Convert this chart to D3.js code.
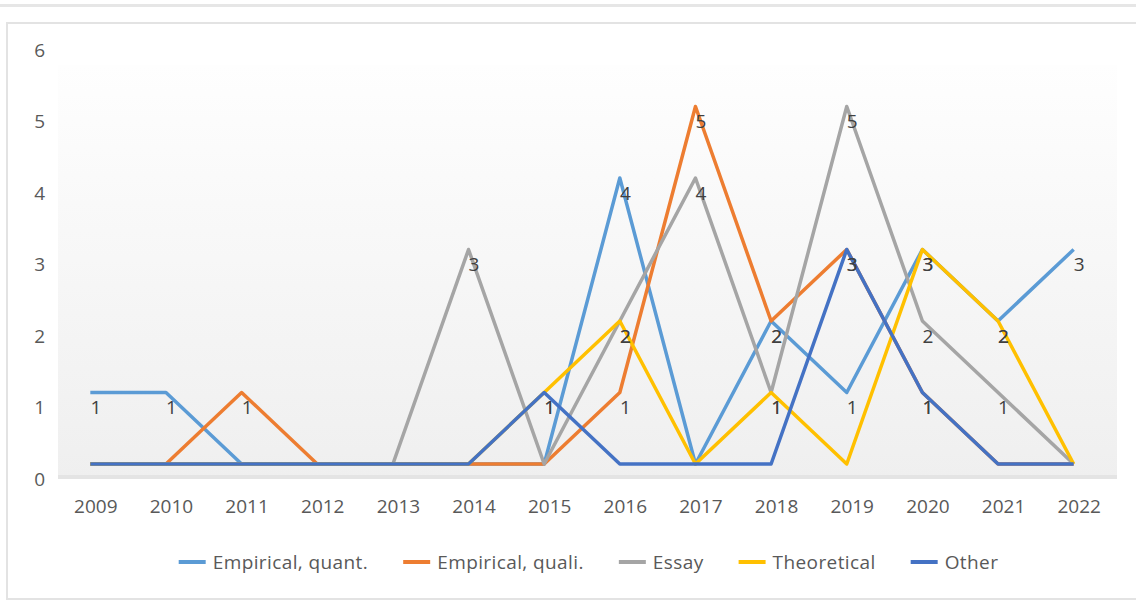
<!DOCTYPE html>
<html>
<head>
<meta charset="utf-8">
<script src="https://cdn.jsdelivr.net/npm/d3@7"></script>
<style>
  body { margin: 0; background: #ffffff; }
  text { font-family: "Open Sans", "Noto Sans", sans-serif; }
</style>
</head>
<body>
<div id="chart"></div>
<script>
// chart data
var years = ["2009","2010","2011","2012","2013","2014","2015","2016","2017","2018","2019","2020","2021","2022"];
var seriesNames = ["Empirical, quant.", "Empirical, quali.", "Essay", "Theoretical", "Other"];
var empiricalQuant = [1,1,0,0,0,0,0,4,0,2,1,3,2,3];
var empiricalQuali = [0,0,1,0,0,0,0,1,5,2,3,1,0,0];
var essay          = [0,0,0,0,0,3,0,2,4,1,5,2,1,0];
var theoretical    = [0,0,0,0,0,0,1,2,0,1,0,3,2,0];
var other          = [0,0,0,0,0,0,1,0,0,0,3,1,0,0];
var yTicks = [0,1,2,3,4,5,6];

var colors = ["#5B9BD5", "#ED7D31", "#A5A5A5", "#FFC000", "#4472C4"];

function getConfig(){
    let width = 1136, height = 601;
    let plot = {left: 58, right: 1117, top: 65, bottom: 479};
    // the 3d look: lines sit a little back from the floor
    let depth = {dx: -5.5, dy: -15};
    return {width, height, plot, depth};
}

function draw(){
    let config = getConfig();
    let allValues = [empiricalQuant, empiricalQuali, essay, theoretical, other];
    let series = seriesNames.map((name, i) => ({
        name: name,
        color: colors[i],
        values: years.map((y, j) => ({year: y, value: allValues[i][j]}))
    }));

    let svg = d3.select("#chart").append("svg")
        .attr("width", config.width)
        .attr("height", config.height);

    // frame bits
    svg.append("rect")
       .attr("x", 0).attr("y", 4).attr("width", config.width).attr("height", 3)
       .attr("fill", "#e6e6e6");
    svg.append("rect")
       .attr("x", 7).attr("y", 23).attr("width", config.width + 20).attr("height", 576)
       .attr("fill", "none").attr("stroke", "#e3e3e3").attr("stroke-width", 2);

    let xScale = d3.scaleBand()
        .domain(years)
        .range([config.plot.left, config.plot.right]);

    let yScale = d3.scaleLinear()
        .domain([0, 6])
        .range([479, 50]);

    // wall gradient
    let defs = svg.append("defs");
    let grad = defs.append("linearGradient").attr("id", "wallGrad")
        .attr("x1", 0).attr("y1", 0).attr("x2", 0).attr("y2", 1);
    grad.append("stop").attr("offset", "0%").attr("stop-color", "#fefefe");
    grad.append("stop").attr("offset", "100%").attr("stop-color", "#efefef");

    svg.append("rect")
       .attr("x", config.plot.left).attr("y", config.plot.top)
       .attr("width", config.plot.right - config.plot.left)
       .attr("height", config.plot.bottom - config.plot.top)
       .attr("fill", "url(#wallGrad)");
    // floor strip
    svg.append("rect")
       .attr("x", config.plot.left).attr("y", config.plot.bottom - 4)
       .attr("width", config.plot.right - config.plot.left)
       .attr("height", 4)
       .attr("fill", "#e4e4e4");

    // axes
    let xAx = svg.append("g")
        .attr("transform", `translate(0, 506)`)
        .call(d3.axisBottom(xScale).tickSize(0).tickPadding(0));
    xAx.select(".domain").remove();
    xAx.selectAll("text")
        .attr("font-size", 19).attr("fill", "#595959")
        .attr("dy", "0.35em")
        .style("font-family", "'Open Sans', sans-serif");

    let yAx = svg.append("g")
        .attr("transform", `translate(45, 0)`)
        .call(d3.axisLeft(yScale).tickValues(yTicks).tickSize(0).tickPadding(0).tickFormat(d3.format("d")));
    yAx.select(".domain").remove();
    yAx.selectAll("text")
        .attr("font-size", 19).attr("fill", "#595959")
        .style("font-family", "'Open Sans', sans-serif");

    // lines
    let cx = d => xScale(d.year) + xScale.bandwidth() / 2;
    let line = d3.line()
        .x(d => cx(d) + config.depth.dx)
        .y(d => yScale(d.value) + config.depth.dy);

    svg.append("g").selectAll("path")
        .data(series)
        .join("path")
        .attr("d", d => line(d.values))
        .attr("fill", "none")
        .attr("stroke", d => d.color)
        .attr("stroke-width", 3.5)
        .attr("stroke-linejoin", "round");

    // data labels (zeros are not labelled)
    let labels = svg.append("g");
    series.forEach(s => {
        labels.selectAll(null)
            .data(s.values.filter(v => v.value > 0))
            .join("text")
            .attr("x", d => cx(d))
            .attr("y", d => yScale(d.value))
            .attr("dy", "0.35em")
            .attr("text-anchor", "middle")
            .attr("font-size", 19)
            .attr("fill", "#404040")
            .text(d => d.value);
    });

    // legend
    let legend = svg.append("g").attr("transform", "translate(0, 562)");
    let items = legend.selectAll("g").data(series).join("g");
    items.append("line")
        .attr("x1", 0).attr("x2", 27).attr("y1", 0).attr("y2", 0)
        .attr("stroke", d => d.color).attr("stroke-width", 4);
    items.append("text")
        .attr("x", 34).attr("dy", "0.35em")
        .attr("font-size", 19).attr("fill", "#595959")
        .style("letter-spacing", "0.4px")
        .text(d => d.name);
    let pos = 0, offsets = [];
    items.each(function(d){
        offsets.push(pos);
        let w = d3.select(this).select("text").node().getComputedTextLength();
        pos += 34 + w + 35;
    });
    let total = pos - 35;
    let start = (config.plot.left + config.plot.right) / 2 - total / 2 + 1;
    items.attr("transform", (d, i) => `translate(${start + offsets[i]}, 0)`);
}

draw();
</script>
</body>
</html>
